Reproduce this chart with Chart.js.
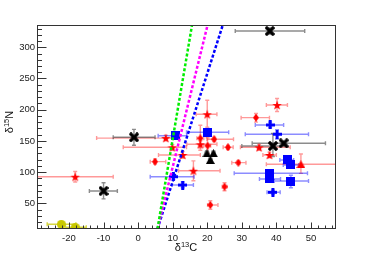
<!DOCTYPE html>
<html>
<head>
<meta charset="utf-8">
<script src="https://cdn.jsdelivr.net/npm/chart.js@4.4.1/dist/chart.umd.min.js"></script>
<style>
  html, body { margin: 0; padding: 0; background: #fff; }
  #wrap { width: 373px; height: 255px; }
</style>
</head>
<body>
<div id="wrap"><canvas id="c" width="373" height="255"></canvas></div>
<script>
// each row: [x, y, xLow, xHigh, yLow, yHigh]
const redStars = [
  [-18.2, 92.6, -35, -7.2, 84, 101],
  [8.0, 154.5, -12, 12, 150, 159],
  [9.9, 139.7, -4.3, 14, 135, 144],
  [12.9, 127.4, 5.9, 18, 122, 133],
  [16.0, 102.2, 11.7, 23.7, 86, 118],
  [18.0, 144.6, 14.1, 22.8, 139, 150],
  [20.0, 192.6, 16.8, 22.8, 172, 215],
  [35.0, 139.7, 29.6, 44, 135, 144],
  [38.0, 127.4, 36.1, 40, 123, 132],
  [40.2, 207.5, 37.1, 43.2, 197, 218]
];
const redDiamonds = [
  [4.9, 116.7, 3.5, 8.0, 113, 121],
  [18.0, 154.2, 17, 19, 135, 175],
  [20.1, 142.3, 19, 21, 130, 155],
  [22.0, 152.6, 19.9, 27.6, 149, 156],
  [26.0, 139.7, 24.6, 27.5, 136, 143],
  [29.0, 115.1, 27.1, 31.2, 112, 118],
  [34.1, 187.2, 29.8, 38, 180, 194],
  [25.0, 76.6, 24.3, 25.7, 70, 83],
  [20.9, 47.3, 20.1, 23.1, 40.5, 54]
];
const redTriangles = [
  [47.1, 112.5, 37.1, 65, 98, 129]
];
const blueSquares = [
  [10.9, 158.3, 5.8, 14.1, 154, 163],
  [20.1, 163.8, 14, 26.2, 158, 170],
  [43.1, 119.4, 41, 45, 115, 124],
  [44.2, 111.4, 42, 46.5, 107, 116],
  [38.0, 98.1, 27.8, 49, 94, 102],
  [38.0, 89.0, 35.1, 41.2, 85, 93],
  [44.2, 85.7, 39.4, 49.3, 75, 95]
];
const blueCrosses = [
  [38.2, 175.5, 33.9, 42.1, 171, 180],
  [40.2, 160.7, 31, 49.3, 153, 168],
  [39.0, 67.6, 37.3, 41.1, 64, 71],
  [10.2, 92.6, 3.5, 16.2, 88, 97],
  [12.9, 79.3, 9.8, 16.0, 75, 84]
];
const blackXs = [
  [-10.0, 69.7, -14.1, -6.0, 57, 83],
  [-1.2, 155.8, -7.2, 4.9, 143, 168.5],
  [38.1, 326, 28.1, 48.2, 321, 331],
  [39.0, 141.8, 30, 43, 125, 162],
  [42.1, 146.2, 33, 54.2, 143, 149]
];
const blackTriangles = [
  [19.9, 130.1, 19.4, 20.4, 126, 134],
  [21.8, 130.1, 21.3, 22.3, 126, 134],
  [20.9, 119.4, 20.4, 21.4, 115, 124]
];
const yellowCircles = [
  [-22.2, 16.3, -26.3, -18, 14, 18],
  [-18.2, 11.5, -21, -15, 9, 14]
];

// mixing lines, bottom and top end
const lineY = [8.8, 335.7];
const greenLineX = [5.6, 15.6];
const magentaLineX = [5.6, 20.1];
const blueLineX = [5.6, 24.5];

const xTickVals = [-20, -10, 0, 10, 20, 30, 40, 50];
const yTickVals = [50, 100, 150, 200, 250, 300];

// marker images
function mk(w, h, draw) {
  const c = document.createElement("canvas");
  c.width = w; c.height = h;
  const g = c.getContext("2d");
  draw(g, w, h);
  return c;
}
function star(size, color) {
  return mk(size, size, (g, w, h) => {
    const cx = w / 2, cy = h / 2 + 0.5, R = w / 2, r = R * 0.4;
    g.beginPath();
    for (let i = 0; i < 10; i++) {
      const a = -Math.PI / 2 + i * Math.PI / 5;
      const rr = i % 2 ? r : R;
      g.lineTo(cx + rr * Math.cos(a), cy + rr * Math.sin(a));
    }
    g.closePath();
    g.fillStyle = color; g.fill();
  });
}
function diamond(w, h, color) {
  return mk(w, h, (g) => {
    g.beginPath();
    g.moveTo(w / 2, 0); g.lineTo(w, h / 2); g.lineTo(w / 2, h); g.lineTo(0, h / 2);
    g.closePath(); g.fillStyle = color; g.fill();
  });
}
function square(s, color) {
  return mk(s, s, (g) => { g.fillStyle = color; g.fillRect(0, 0, s, s); });
}
function triangle(w, h, color) {
  return mk(w, h, (g) => {
    g.beginPath(); g.moveTo(w / 2, 0); g.lineTo(w, h); g.lineTo(0, h); g.closePath();
    g.fillStyle = color; g.fill();
  });
}
function plus(s, color) {
  return mk(s, s, (g) => {
    const t = Math.round(s / 3);
    g.fillStyle = color;
    g.fillRect((s - t) / 2, 0, t, s);
    g.fillRect(0, (s - t) / 2, s, t);
  });
}
function xmark(s, color) {
  return mk(s, s, (g) => {
    g.strokeStyle = color; g.lineWidth = 3.2; g.lineCap = "square";
    g.beginPath();
    g.moveTo(2, 2); g.lineTo(s - 2, s - 2);
    g.moveTo(s - 2, 2); g.lineTo(2, s - 2);
    g.stroke();
  });
}
function circle(s, color) {
  return mk(s, s, (g) => {
    g.beginPath(); g.arc(s / 2, s / 2, s / 2, 0, Math.PI * 2);
    g.fillStyle = color; g.fill();
  });
}

const RED = "#ff0000", BLUE = "#0000ff", BLACK = "#000000", YEL = "#c8c800";

function pts(rows) {
  return rows.map(r => ({ x: r[0], y: r[1], xl: r[2], xh: r[3], yl: r[4], yh: r[5] }));
}
function line(xs, color) {
  return {
    type: "line",
    data: xs.map((x, i) => ({ x: x, y: lineY[i] })),
    borderColor: color, borderWidth: 2.5, borderDash: [3, 2],
    pointRadius: 0, fill: false, showLine: true, order: 0
  };
}
function marks(rows, img, ebColor) {
  return {
    type: "scatter",
    data: pts(rows),
    pointStyle: img, pointRadius: 5, ebColor: ebColor, order: 1
  };
}

const errorBars = {
  id: "errorBars",
  beforeDatasetsDraw(chart) {
    const ctx = chart.ctx, a = chart.chartArea;
    const xs = chart.scales.x, ys = chart.scales.y;
    ctx.save();
    ctx.beginPath(); ctx.rect(a.left, a.top, a.right - a.left, a.bottom - a.top); ctx.clip();
    chart.data.datasets.forEach(ds => {
      if (!ds.ebColor) return;
      ctx.strokeStyle = ds.ebColor; ctx.lineWidth = 1.4;
      ds.data.forEach(p => {
        const px = xs.getPixelForValue(p.x), py = ys.getPixelForValue(p.y);
        const x1 = xs.getPixelForValue(p.xl), x2 = xs.getPixelForValue(p.xh);
        const y1 = ys.getPixelForValue(p.yl), y2 = ys.getPixelForValue(p.yh);
        ctx.beginPath();
        ctx.moveTo(x1, py); ctx.lineTo(x2, py);
        ctx.moveTo(px, y1); ctx.lineTo(px, y2);
        ctx.moveTo(x1, py - 2); ctx.lineTo(x1, py + 2);
        ctx.moveTo(x2, py - 2); ctx.lineTo(x2, py + 2);
        ctx.moveTo(px - 2, y1); ctx.lineTo(px + 2, y1);
        ctx.moveTo(px - 2, y2); ctx.lineTo(px + 2, y2);
        ctx.stroke();
      });
    });
    ctx.restore();
  }
};

const rootFrame = {
  id: "rootFrame",
  afterDraw(chart) {
    const ctx = chart.ctx, a = chart.chartArea;
    const xs = chart.scales.x, ys = chart.scales.y;
    const L = Math.round(a.left) + 0.5, R = Math.round(a.right) - 0.5;
    const T = Math.round(a.top) + 0.5, B = Math.round(a.bottom) - 0.5;
    ctx.save();
    ctx.strokeStyle = "#333"; ctx.lineWidth = 1;
    ctx.strokeRect(L, T, R - L, B - T);
    ctx.beginPath();
    for (let v = -28; v <= 56; v += 2) {
      const px = Math.round(xs.getPixelForValue(v)) + 0.5;
      const len = v % 10 === 0 ? 6 : 3;
      ctx.moveTo(px, B); ctx.lineTo(px, B - len);
    }
    for (let v = 10; v <= 330; v += 10) {
      const py = Math.round(ys.getPixelForValue(v)) + 0.5;
      const len = v % 50 === 0 ? 9 : 4.5;
      ctx.moveTo(L, py); ctx.lineTo(L + len, py);
    }
    ctx.stroke();

    // axis titles
    ctx.fillStyle = "#111";
    ctx.textBaseline = "alphabetic";
    const big = "11px 'Liberation Sans', Arial, sans-serif";
    const small = "7.5px 'Liberation Sans', Arial, sans-serif";
    function title(parts) {
      let w = 0;
      parts.forEach(p => { ctx.font = p[1] ? small : big; w += ctx.measureText(p[0]).width; });
      let x = -w / 2;
      parts.forEach(p => {
        ctx.font = p[1] ? small : big;
        ctx.fillText(p[0], x, p[1] ? -4 : 0);
        x += ctx.measureText(p[0]).width;
      });
    }
    ctx.save(); ctx.translate(186, 251); title([["δ", 0], ["13", 1], ["C", 0]]); ctx.restore();
    ctx.save(); ctx.translate(12.5, 122); ctx.rotate(-Math.PI / 2); title([["δ", 0], ["15", 1], ["N", 0]]); ctx.restore();
    ctx.restore();
  }
};

const tickFont = { family: "'Liberation Sans', Arial, sans-serif", size: 9.5 };

new Chart(document.getElementById("c"), {
  data: {
    datasets: [
      line(greenLineX, "#00ee00"),
      line(magentaLineX, "#ff00ff"),
      line(blueLineX, "#0000ff"),
      marks(yellowCircles, circle(9, YEL), "rgba(200,200,0,0.75)"),
      marks(redDiamonds, diamond(6, 8, RED), "rgba(255,0,0,0.4)"),
      marks(redStars, star(10, RED), "rgba(255,0,0,0.4)"),
      marks(redTriangles, triangle(9, 8, RED), "rgba(255,0,0,0.4)"),
      marks(blueSquares, square(9, BLUE), "rgba(0,0,255,0.45)"),
      marks(blueCrosses, plus(9, BLUE), "rgba(0,0,255,0.45)"),
      marks(blackTriangles, triangle(9, 8, BLACK), "rgba(0,0,0,0.45)"),
      marks(blackXs, xmark(10, BLACK), "rgba(0,0,0,0.45)")
    ]
  },
  options: {
    responsive: false,
    animation: false,
    events: [],
    layout: { padding: { top: 25, right: 37, left: 0, bottom: 0 } },
    plugins: { legend: { display: false }, tooltip: { enabled: false } },
    scales: {
      x: {
        type: "linear", min: -29.25, max: 57.25,
        afterBuildTicks: s => { s.ticks = xTickVals.map(v => ({ value: v })); },
        afterFit: s => { s.height = 26; },
        grid: { display: false, drawTicks: false },
        border: { display: false },
        ticks: { font: tickFont, color: "#222", padding: 4, maxRotation: 0, autoSkip: false }
      },
      y: {
        type: "linear", min: 8.8, max: 335.7,
        afterBuildTicks: s => { s.ticks = yTickVals.map(v => ({ value: v })); },
        afterFit: s => { s.width = 37; },
        grid: { display: false, drawTicks: false },
        border: { display: false },
        ticks: { font: tickFont, color: "#222", padding: 2, autoSkip: false }
      }
    }
  },
  plugins: [errorBars, rootFrame]
});
</script>
</body>
</html>
